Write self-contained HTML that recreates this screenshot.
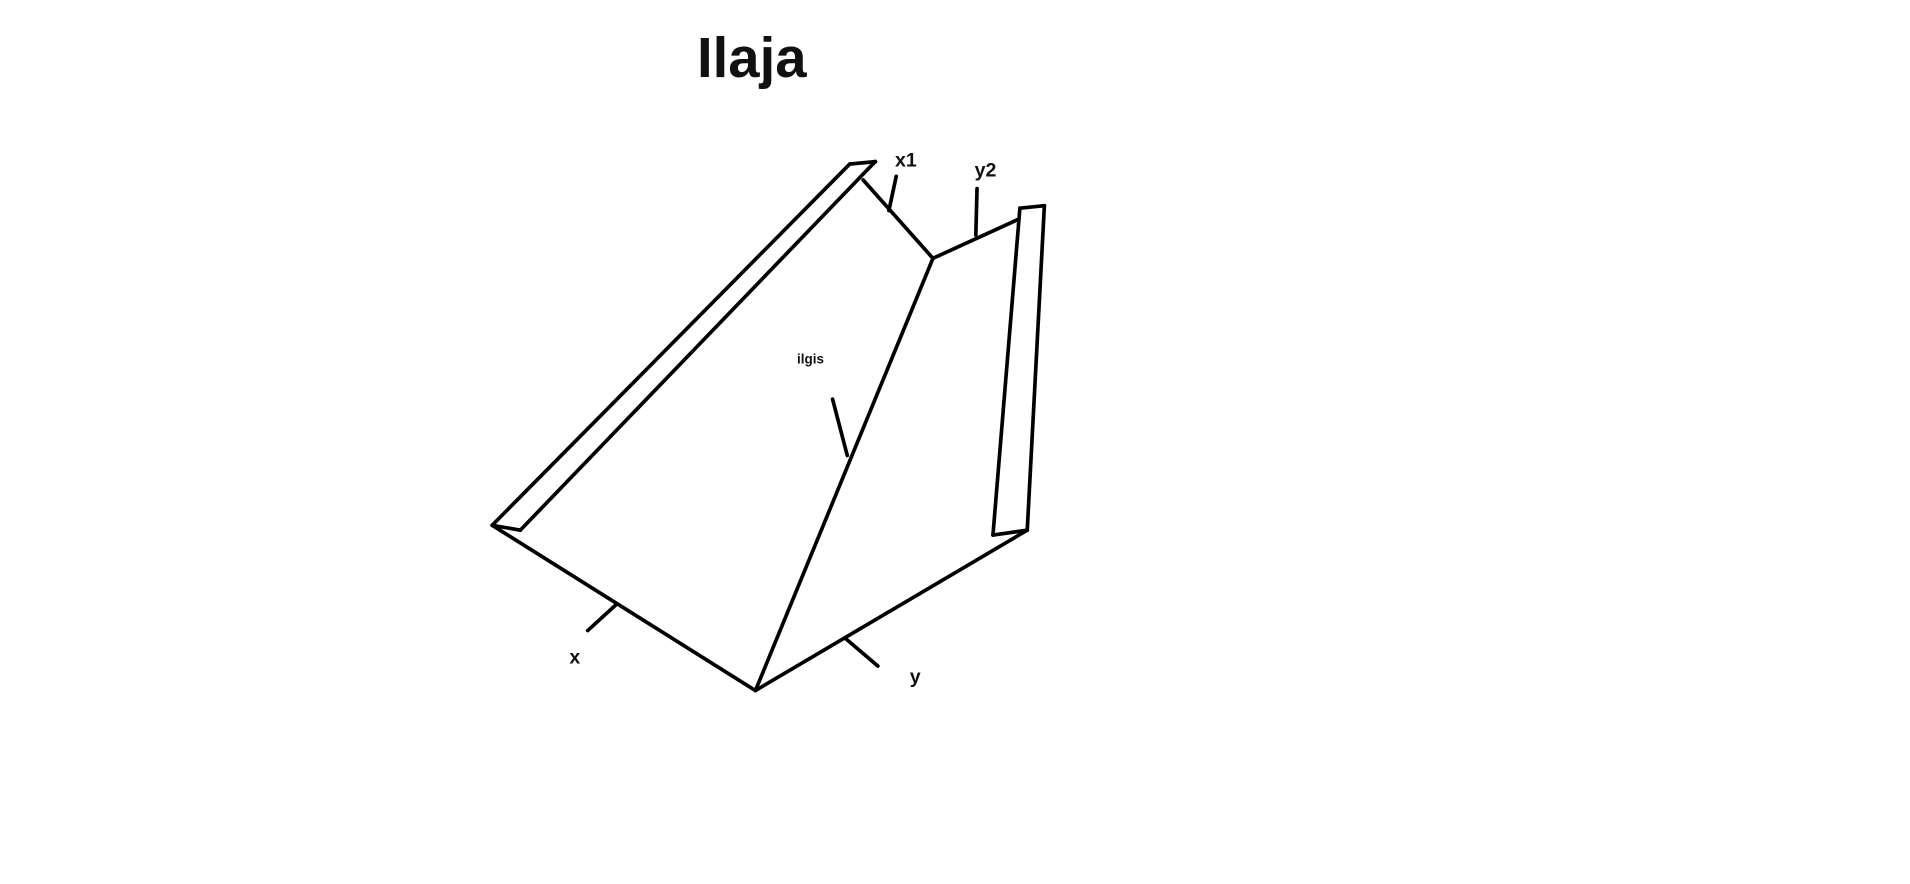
<!DOCTYPE html>
<html>
<head>
<meta charset="utf-8">
<style>
  html,body{margin:0;padding:0;background:#fff;}
  svg{display:block;}
  text{font-family:"Liberation Sans",sans-serif;fill:#111;}
</style>
</head>
<body>
<svg width="1910" height="884" viewBox="0 0 1560 722" preserveAspectRatio="none" xmlns="http://www.w3.org/2000/svg">
 <g transform="translate(-3,-3)">
  <text x="617" y="66" font-size="46" font-weight="bold" text-anchor="middle">Ilaja</text>
  <g stroke="#000" stroke-width="3" stroke-linecap="round" fill="none">
    <line x1="405" y1="432" x2="697" y2="137"/>
    <line x1="697" y1="137" x2="718" y2="135"/>
    <line x1="718" y1="135" x2="712" y2="141"/>
    <line x1="428" y1="436" x2="712" y2="141"/>
    <line x1="405" y1="432" x2="428" y2="436"/>
    <line x1="708" y1="150" x2="765" y2="214"/>
    <line x1="765" y1="214" x2="835" y2="182"/>
    <line x1="836" y1="173" x2="856" y2="171"/>
    <line x1="856" y1="171" x2="842" y2="436"/>
    <line x1="836" y1="173" x2="814" y2="440"/>
    <line x1="814" y1="440" x2="842" y2="436"/>
    <line x1="765" y1="214" x2="620" y2="567"/>
    <line x1="405" y1="432" x2="620" y2="567"/>
    <line x1="620" y1="567" x2="842" y2="436"/>
    <line x1="483" y1="518" x2="506" y2="497"/>
    <line x1="693" y1="524" x2="720" y2="547"/>
    <line x1="729" y1="175" x2="735" y2="147"/>
    <line x1="800" y1="195" x2="801" y2="157"/>
    <line x1="683" y1="329" x2="695" y2="375"/>
  </g>
  <text x="734" y="139" font-size="16" font-weight="bold">x1</text>
  <text x="799" y="147" font-size="16" font-weight="bold">y2</text>
  <text x="468" y="545" font-size="16" font-weight="bold">x</text>
  <text x="746" y="561" font-size="16" font-weight="bold">y</text>
  <text x="654" y="300" font-size="11" font-weight="bold">ilgis</text>
 </g>
</svg>
</body>
</html>
